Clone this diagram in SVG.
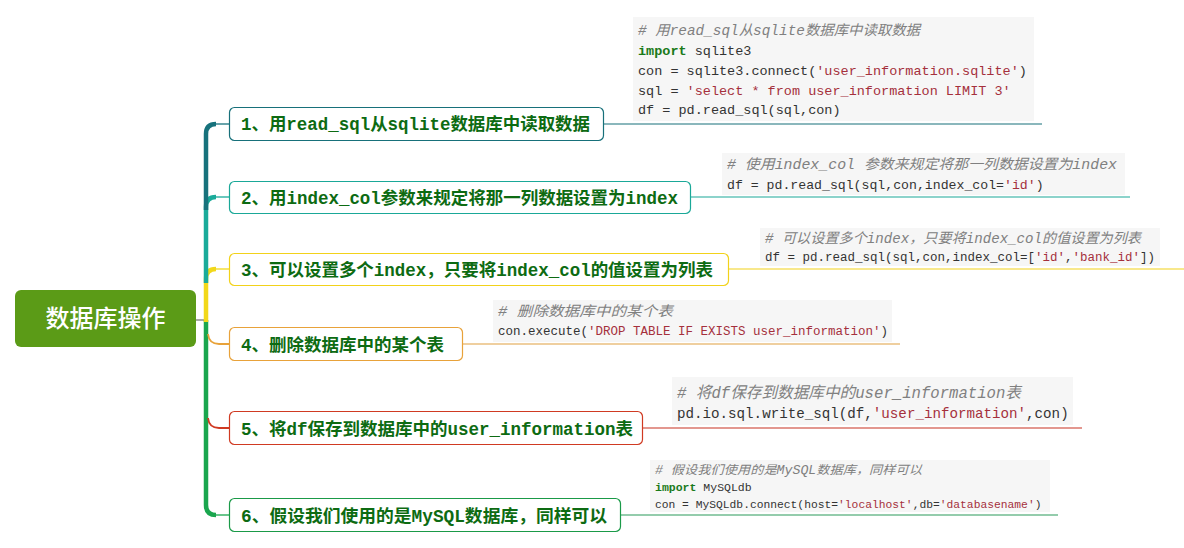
<svg xmlns="http://www.w3.org/2000/svg" width="1184" height="548" viewBox="0 0 1184 548">
<style>
.node{fill:#ffffff;stroke-width:1.2}
.lbl{font-family:"Liberation Mono","Noto Sans CJK SC",monospace;font-size:17.5px;font-weight:bold;fill:#0d6b12}
.code{font-family:"Liberation Mono","Noto Sans CJK SC",monospace;fill:#333333}
.cm{font-style:italic;fill:#808080}
.str{fill:#a5303c}
.kw{fill:#1a7a1a;font-weight:bold}
.bg{fill:#f6f6f6}
.br{fill:none}
.trunk{fill:none;stroke-width:4.5}
</style>
<rect width="1184" height="548" fill="#ffffff"/>
<g id="code-blocks">
<g id="code1">
<rect class="bg" x="633" y="17" width="401" height="104"/>
<text class="code cm" x="638" y="35" font-size="14" textLength="282" lengthAdjust="spacingAndGlyphs"># 用read_sql从sqlite数据库中读取数据</text>
<text class="code" x="638" y="55" font-size="13.5"><tspan class="kw">import</tspan> sqlite3</text>
<text class="code" x="638" y="75" font-size="13.5">con = sqlite3.connect(<tspan class="str">'user_information.sqlite'</tspan>)</text>
<text class="code" x="638" y="95" font-size="13.5">sql = <tspan class="str">'select * from user_information LIMIT 3'</tspan></text>
<text class="code" x="638" y="114" font-size="13.5">df = pd.read_sql(sql,con)</text>
</g>
<g id="code2">
<rect class="bg" x="722" y="153" width="403" height="42"/>
<text class="code cm" x="727" y="169" font-size="14" textLength="390" lengthAdjust="spacingAndGlyphs"># 使用index_col 参数来规定将那一列数据设置为index</text>
<text class="code" x="727" y="189" font-size="13.2">df = pd.read_sql(sql,con,index_col=<tspan class="str">'id'</tspan>)</text>
</g>
<g id="code3">
<rect class="bg" x="760" y="228" width="400" height="38"/>
<text class="code cm" x="765" y="243" font-size="14" textLength="376" lengthAdjust="spacingAndGlyphs"># 可以设置多个index，只要将index_col的值设置为列表</text>
<text class="code" x="765" y="261" font-size="12.5">df = pd.read_sql(sql,con,index_col=[<tspan class="str">'id'</tspan>,<tspan class="str">'bank_id'</tspan>])</text>
</g>
<g id="code4">
<rect class="bg" x="493" y="300" width="399" height="42"/>
<text class="code cm" x="498" y="316" font-size="14" textLength="175" lengthAdjust="spacingAndGlyphs"># 删除数据库中的某个表</text>
<text class="code" x="498" y="335" font-size="12.5">con.execute(<tspan class="str">'DROP TABLE IF EXISTS user_information'</tspan>)</text>
</g>
<g id="code5">
<rect class="bg" x="672" y="377" width="401" height="48"/>
<text class="code cm" x="677" y="398" font-size="16" textLength="344" lengthAdjust="spacingAndGlyphs"># 将df保存到数据库中的user_information表</text>
<text class="code" x="677" y="418" font-size="14.2">pd.io.sql.write_sql(df,<tspan class="str">'user_information'</tspan>,con)</text>
</g>
<g id="code6">
<rect class="bg" x="650" y="460" width="400" height="52"/>
<text class="code cm" x="655" y="474" font-size="12" textLength="267" lengthAdjust="spacingAndGlyphs"># 假设我们使用的是MySQL数据库，同样可以</text>
<text class="code" x="655" y="491" font-size="11.5"><tspan class="kw">import</tspan> MySQLdb</text>
<text class="code" x="655" y="508" font-size="11.3">con = MySQLdb.connect(host=<tspan class="str">'localhost'</tspan>,db=<tspan class="str">'databasename'</tspan>)</text>
</g>
</g>
<g id="connectors">
<line x1="196" y1="320" x2="206" y2="320" stroke="#555555" stroke-width="1"/>
<path class="trunk" d="M206,320 V505 Q206,515 216,515" stroke="#1aa64e"/>
<path class="trunk" d="M206,322 V279 Q206,269 216,269" stroke="#f2d81a"/>
<path class="trunk" d="M206,283 V207 Q206,197 216,197" stroke="#1aab9a"/>
<path class="trunk" d="M206,210 V134 Q206,124 216,124" stroke="#17727c"/>
<path class="br" d="M208,334 Q209,344 219,344 H229" stroke="#e8a23a" stroke-width="1.8"/>
<path class="br" d="M208,418 Q209,428 219,428 H229" stroke="#d03a22" stroke-width="1.8"/>
<line x1="215" y1="124" x2="229" y2="124" stroke="#17727c" stroke-width="1.3"/>
<line x1="215" y1="197" x2="229" y2="197" stroke="#1aab9a" stroke-width="1.3"/>
<line x1="215" y1="269" x2="229" y2="269" stroke="#f2d81a" stroke-width="1.3"/>
<line x1="215" y1="515" x2="229" y2="515" stroke="#1aa64e" stroke-width="1.3"/>
<line x1="603" y1="124" x2="1042" y2="124" stroke="#17707a" stroke-width="1.2"/>
<line x1="690" y1="197" x2="1130" y2="197" stroke="#1aa898" stroke-width="1.2"/>
<line x1="728" y1="269" x2="1184" y2="269" stroke="#f2d21a" stroke-width="1.2"/>
<line x1="462" y1="344" x2="900" y2="344" stroke="#e0a040" stroke-width="1.2"/>
<line x1="642" y1="428" x2="1082" y2="428" stroke="#c83020" stroke-width="1.2"/>
<line x1="620" y1="515" x2="1058" y2="515" stroke="#2a9a5a" stroke-width="1.2"/>
</g>
<g id="root">
<rect x="15" y="290" width="181" height="57" rx="6" fill="#5b9b17"/>
<text x="105.5" y="327" text-anchor="middle" font-family="'Noto Sans CJK SC',sans-serif" font-size="24" font-weight="500" fill="#ffffff">数据库操作</text>
</g>
<g id="node1">
<rect class="node" x="229.5" y="107.5" width="374" height="33" rx="5" stroke="#17707a"/>
<text class="lbl" x="241" y="130" textLength="349" lengthAdjust="spacingAndGlyphs">1、用read_sql从sqlite数据库中读取数据</text>
</g>
<g id="node2">
<rect class="node" x="229.5" y="181.5" width="461" height="32" rx="5" stroke="#1aa898"/>
<text class="lbl" x="241" y="204" textLength="437" lengthAdjust="spacingAndGlyphs">2、用index_col参数来规定将那一列数据设置为index</text>
</g>
<g id="node3">
<rect class="node" x="229.5" y="253.5" width="499" height="32" rx="5" stroke="#f2d21a"/>
<text class="lbl" x="241" y="276" textLength="472" lengthAdjust="spacingAndGlyphs">3、可以设置多个index，只要将index_col的值设置为列表</text>
</g>
<g id="node4">
<rect class="node" x="229.5" y="327.5" width="233" height="33" rx="5" stroke="#e8a23a"/>
<text class="lbl" x="241" y="351" textLength="203" lengthAdjust="spacingAndGlyphs">4、删除数据库中的某个表</text>
</g>
<g id="node5">
<rect class="node" x="229.5" y="411.5" width="413" height="33" rx="5" stroke="#d03a22"/>
<text class="lbl" x="241" y="435" textLength="392" lengthAdjust="spacingAndGlyphs">5、将df保存到数据库中的user_information表</text>
</g>
<g id="node6">
<rect class="node" x="229.5" y="498.5" width="391" height="33" rx="5" stroke="#1a9a48"/>
<text class="lbl" x="241" y="522" textLength="366" lengthAdjust="spacingAndGlyphs">6、假设我们使用的是MySQL数据库，同样可以</text>
</g>
</svg>
